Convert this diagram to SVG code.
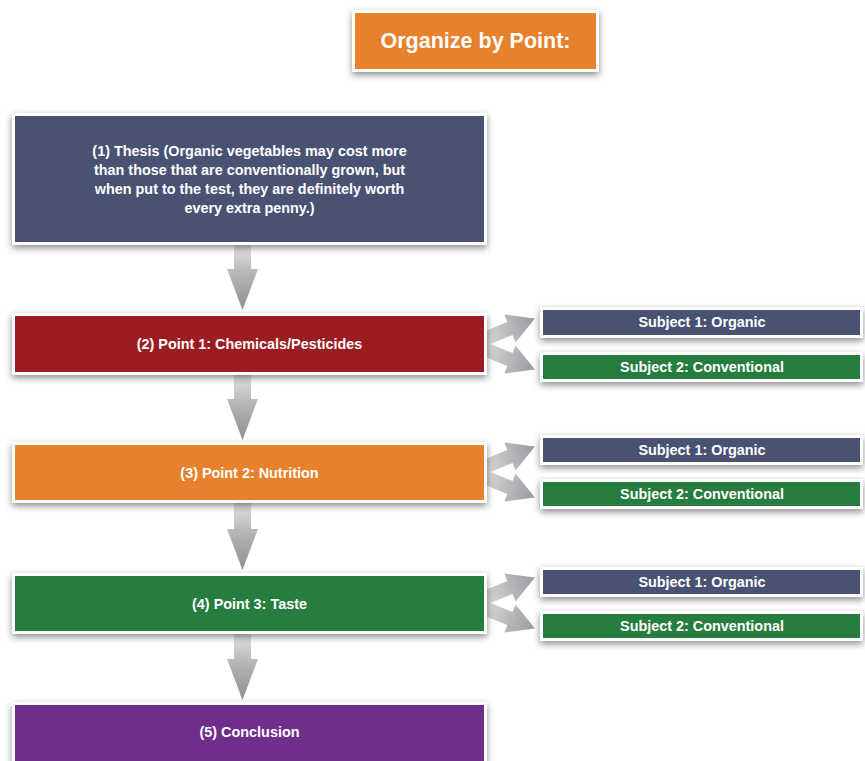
<svg xmlns="http://www.w3.org/2000/svg" width="865" height="761" viewBox="0 0 865 761">
<defs>
<filter id="sh" x="-10%" y="-30%" width="120%" height="160%">
<feDropShadow dx="0" dy="3" stdDeviation="3.5" flood-color="#000" flood-opacity="0.45"/>
</filter>
<linearGradient id="gDown" x1="0" y1="0" x2="0" y2="1">
<stop offset="0" stop-color="#e2e2e3"/>
<stop offset="0.45" stop-color="#b4b5b7"/>
<stop offset="1" stop-color="#8e8f92"/>
</linearGradient>
<linearGradient id="gSide" x1="0" y1="0" x2="1" y2="0">
<stop offset="0" stop-color="#d6d7d8"/>
<stop offset="1" stop-color="#9a9b9e"/>
</linearGradient>
<polygon id="side" points="0,-7 28,-7 28,-15 55,0 28,15 28,7 0,7" fill="url(#gSide)"/>
</defs>
<style>
.frame{fill:#fff;filter:url(#sh)}
.t{font-family:"Liberation Sans",Arial,sans-serif;font-weight:bold;font-size:14.4px;fill:#fff;text-anchor:middle}
.blue{fill:#4a5274}.red{fill:#9b1c21}.orange{fill:#e8812b}.green{fill:#277d3f}.purple{fill:#6f2e8c}
</style>
<rect width="865" height="761" fill="#fff"/>

<g id="connectors">
<polygon points="234,245 251,245 251,269 258,269 242.5,310 227,269 234,269" fill="url(#gDown)"/>
<polygon points="234,375 251,375 251,399 258,399 242.5,440 227,399 234,399" fill="url(#gDown)"/>
<polygon points="234,503 251,503 251,529 258,529 242.5,570 227,529 234,529" fill="url(#gDown)"/>
<polygon points="234,634 251,634 251,659 258,659 242.5,700 227,659 234,659" fill="url(#gDown)"/>
<use href="#side" transform="translate(484,339) rotate(-22)"/>
<use href="#side" transform="translate(484,349) rotate(22)"/>
<use href="#side" transform="translate(484,467) rotate(-22)"/>
<use href="#side" transform="translate(484,477) rotate(22)"/>
<use href="#side" transform="translate(484,598) rotate(-22)"/>
<use href="#side" transform="translate(484,608) rotate(22)"/>
</g>

<g id="title">
<rect class="frame" x="352" y="10" width="247" height="62"/>
<rect class="orange" x="355" y="13" width="241" height="56"/>
<text class="t" x="475.5" y="48" style="font-size:21.5px">Organize by Point:</text>
</g>

<g id="thesis">
<rect class="frame" x="12" y="113" width="475" height="132"/>
<rect class="blue" x="15" y="116" width="469" height="126"/>
<text class="t" x="249.5" y="156">(1) Thesis (Organic vegetables may cost more</text>
<text class="t" x="249.5" y="175">than those that are conventionally grown, but</text>
<text class="t" x="249.5" y="194">when put to the test, they are definitely worth</text>
<text class="t" x="249.5" y="213">every extra penny.)</text>
</g>

<g id="point1">
<rect class="frame" x="12" y="313" width="475" height="62"/>
<rect class="red" x="15" y="316" width="469" height="56"/>
<text class="t" x="249.5" y="349">(2) Point 1: Chemicals/Pesticides</text>
</g>
<g id="p1s1">
<rect class="frame" x="540" y="307" width="323" height="31"/>
<rect class="blue" x="543" y="310" width="317" height="25"/>
<text class="t" x="702" y="327">Subject 1: Organic</text>
</g>
<g id="p1s2">
<rect class="frame" x="540" y="352" width="323" height="30"/>
<rect class="green" x="543" y="355" width="317" height="24"/>
<text class="t" x="702" y="372">Subject 2: Conventional</text>
</g>

<g id="point2">
<rect class="frame" x="12" y="442" width="475" height="61"/>
<rect class="orange" x="15" y="445" width="469" height="55"/>
<text class="t" x="249.5" y="478">(3) Point 2: Nutrition</text>
</g>
<g id="p2s1">
<rect class="frame" x="540" y="435" width="323" height="30"/>
<rect class="blue" x="543" y="438" width="317" height="24"/>
<text class="t" x="702" y="455">Subject 1: Organic</text>
</g>
<g id="p2s2">
<rect class="frame" x="540" y="479" width="323" height="30"/>
<rect class="green" x="543" y="482" width="317" height="24"/>
<text class="t" x="702" y="499">Subject 2: Conventional</text>
</g>

<g id="point3">
<rect class="frame" x="12" y="573" width="475" height="61"/>
<rect class="green" x="15" y="576" width="469" height="55"/>
<text class="t" x="249.5" y="609">(4) Point 3: Taste</text>
</g>
<g id="p3s1">
<rect class="frame" x="540" y="567" width="323" height="30"/>
<rect class="blue" x="543" y="570" width="317" height="24"/>
<text class="t" x="702" y="587">Subject 1: Organic</text>
</g>
<g id="p3s2">
<rect class="frame" x="540" y="611" width="323" height="30"/>
<rect class="green" x="543" y="614" width="317" height="24"/>
<text class="t" x="702" y="631">Subject 2: Conventional</text>
</g>

<g id="conclusion">
<rect class="frame" x="12" y="702" width="475" height="70"/>
<rect class="purple" x="15" y="705" width="469" height="70"/>
<text class="t" x="249.5" y="737">(5) Conclusion</text>
</g>
</svg>
